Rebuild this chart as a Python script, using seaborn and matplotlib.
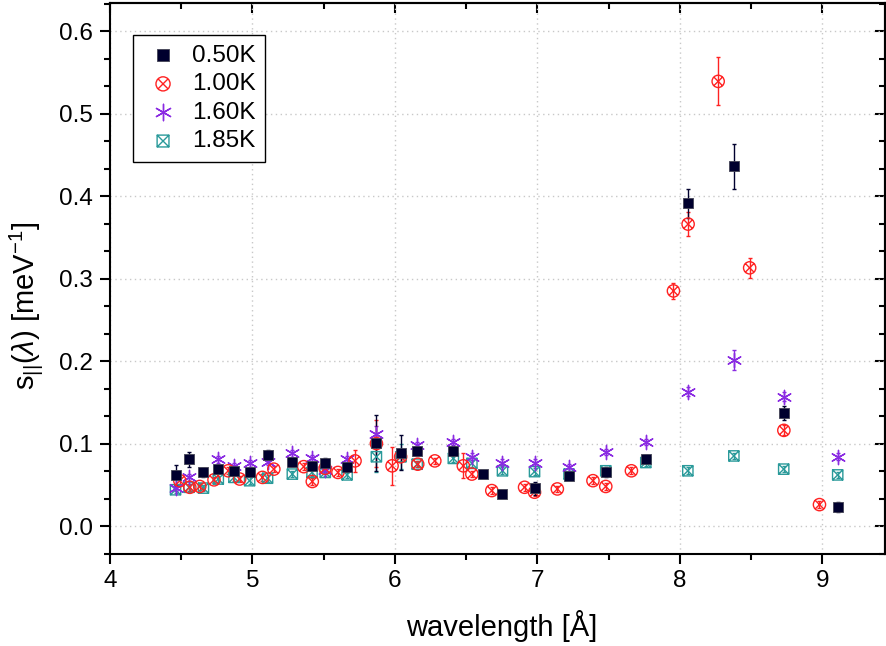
import numpy as np
import pandas as pd
import matplotlib
matplotlib.use("Agg")
import matplotlib.pyplot as plt
from matplotlib.path import Path
from matplotlib.ticker import MultipleLocator, FormatStrFormatter
import seaborn as sns

# ---------------- data ----------------
wl_050 = [4.46, 4.555, 4.656, 4.76, 4.87, 4.98, 5.106, 5.28, 5.418, 5.511, 5.664, 5.87,
          6.043, 6.156, 6.41, 6.617, 6.755, 6.98, 7.222, 7.48, 7.761, 8.056, 8.379, 8.729, 9.108]
s_050 = [0.062, 0.081, 0.065, 0.069, 0.067, 0.066, 0.086, 0.078, 0.073, 0.077, 0.071, 0.101,
         0.089, 0.091, 0.091, 0.063, 0.039, 0.046, 0.061, 0.065, 0.081, 0.391, 0.436, 0.137, 0.023]
e_050 = [0.012, 0.009, 0.005, 0.005, 0.004, 0.004, 0.006, 0.005, 0.005, 0.006, 0.005, 0.034,
         0.021, 0.005, 0.006, 0.004, 0.003, 0.008, 0.004, 0.006, 0.005, 0.018, 0.027, 0.008, 0.006]

wl_100 = [4.49, 4.56, 4.63, 4.73, 4.83, 4.91, 5.07, 5.15, 5.36, 5.42, 5.51, 5.60, 5.72, 5.87,
          5.98, 6.04, 6.16, 6.28, 6.48, 6.54, 6.68, 6.91, 6.98, 7.14, 7.39, 7.48, 7.66,
          7.955, 8.058, 8.269, 8.49, 8.73, 8.98]
s_100 = [0.055, 0.047, 0.048, 0.056, 0.067, 0.057, 0.059, 0.069, 0.072, 0.054, 0.070, 0.065, 0.079, 0.100,
         0.073, 0.084, 0.075, 0.079, 0.073, 0.063, 0.043, 0.047, 0.041, 0.045, 0.055, 0.048, 0.067,
         0.285, 0.366, 0.539, 0.313, 0.116, 0.026]
e_100 = [0.004, 0.004, 0.004, 0.004, 0.004, 0.004, 0.004, 0.004, 0.004, 0.004, 0.004, 0.004, 0.013, 0.028,
         0.023, 0.005, 0.004, 0.004, 0.015, 0.004, 0.004, 0.004, 0.004, 0.004, 0.004, 0.004, 0.004,
         0.010, 0.015, 0.029, 0.012, 0.006, 0.004]

wl_160 = [4.46, 4.555, 4.76, 4.87, 4.98, 5.106, 5.28, 5.418, 5.511, 5.664, 5.87, 6.156,
          6.41, 6.54, 6.755, 6.98, 7.222, 7.48, 7.761, 8.056, 8.379, 8.729, 9.108]
s_160 = [0.046, 0.059, 0.081, 0.073, 0.076, 0.078, 0.088, 0.082, 0.068, 0.081, 0.111, 0.098,
         0.102, 0.084, 0.077, 0.077, 0.071, 0.090, 0.102, 0.163, 0.201, 0.157, 0.084]
e_160 = [0.004, 0.004, 0.004, 0.004, 0.004, 0.004, 0.004, 0.004, 0.004, 0.004, 0.010, 0.004,
         0.004, 0.004, 0.004, 0.004, 0.004, 0.004, 0.004, 0.005, 0.012, 0.005, 0.004]

wl_185 = [4.46, 4.555, 4.656, 4.76, 4.87, 4.98, 5.106, 5.28, 5.418, 5.511, 5.664, 5.87,
          6.043, 6.156, 6.41, 6.54, 6.755, 6.98, 7.222, 7.48, 7.761, 8.056, 8.379, 8.729, 9.108]
s_185 = [0.044, 0.047, 0.046, 0.057, 0.059, 0.055, 0.058, 0.063, 0.065, 0.065, 0.062, 0.084,
         0.084, 0.075, 0.082, 0.076, 0.067, 0.066, 0.063, 0.067, 0.077, 0.067, 0.085, 0.069, 0.062]
e_185 = [0.004, 0.004, 0.004, 0.004, 0.004, 0.004, 0.004, 0.004, 0.004, 0.004, 0.004, 0.018,
         0.015, 0.004, 0.004, 0.004, 0.004, 0.004, 0.004, 0.004, 0.004, 0.004, 0.004, 0.004, 0.004]

labels = ["0.50K", "1.00K", "1.60K", "1.85K"]
colors = ["#00002e", "#ff2222", "#8a2be2", "#2a9a9a"]

# ---------------- style ----------------
sns.set_style("ticks")
plt.rcParams["font.family"] = ["Liberation Sans", "DejaVu Sans"]
plt.rcParams["mathtext.fontset"] = "custom"
plt.rcParams["mathtext.rm"] = "Liberation Sans"
plt.rcParams["mathtext.it"] = "Liberation Sans:italic"
plt.rcParams["mathtext.bf"] = "Liberation Sans:bold"
for k in ["text.color", "axes.labelcolor", "xtick.color", "ytick.color", "axes.edgecolor"]:
    plt.rcParams[k] = "black"

# custom markers
circ_x = Path.make_compound_path(
    Path.unit_circle(),
    Path([[-0.7071, -0.7071], [0.7071, 0.7071]], [Path.MOVETO, Path.LINETO]),
    Path([[-0.7071, 0.7071], [0.7071, -0.7071]], [Path.MOVETO, Path.LINETO]),
)
sq_x = Path.make_compound_path(
    Path([[-1, -1], [1, -1], [1, 1], [-1, 1], [-1, -1]],
         [Path.MOVETO, Path.LINETO, Path.LINETO, Path.LINETO, Path.CLOSEPOLY]),
    Path([[-1, -1], [1, 1]], [Path.MOVETO, Path.LINETO]),
    Path([[-1, 1], [1, -1]], [Path.MOVETO, Path.LINETO]),
)

fig = plt.figure(figsize=(8.86, 6.46), dpi=100)
ax = fig.add_axes([110 / 886, (646 - 553.7) / 646, (885 - 110) / 886, (553.7 - 3) / 646])

series = [
    (wl_185, s_185, e_185, labels[3], colors[3]),
    (wl_160, s_160, e_160, labels[2], colors[2]),
    (wl_100, s_100, e_100, labels[1], colors[1]),
    (wl_050, s_050, e_050, labels[0], colors[0]),
]

for wl, s, e, lab, col in series:
    df = pd.DataFrame({"wl": wl, "s": s})
    ax.errorbar(wl, s, yerr=e, fmt="none", ecolor=col, elinewidth=1.0,
                capsize=1.5, capthick=1.0, zorder=2)
    if lab == "0.50K":
        sns.scatterplot(data=df, x="wl", y="s", ax=ax, marker="s", s=60,
                        color=col, edgecolor="#444455", linewidth=0.6, label=lab, zorder=5)
    elif lab == "1.00K":
        sns.scatterplot(data=df, x="wl", y="s", ax=ax, marker=circ_x, s=78,
                        color=col, facecolor="none", edgecolor=col, linewidth=1.0, label=lab, zorder=4)
    elif lab == "1.60K":
        sns.scatterplot(data=df, x="wl", y="s", ax=ax, marker=(6, 2, 0), s=105,
                        color=col, edgecolor=col, linewidth=1.0, label=lab, zorder=3)
    else:
        sns.scatterplot(data=df, x="wl", y="s", ax=ax, marker=sq_x, s=55,
                        color=col, facecolor="none", edgecolor=col, linewidth=1.0, label=lab, zorder=3)

ax.set_xlim(4, 9.44)
ax.set_ylim(-0.0335, 0.634)
ax.xaxis.set_major_locator(MultipleLocator(1))
ax.xaxis.set_minor_locator(MultipleLocator(0.5))
ax.yaxis.set_major_locator(MultipleLocator(0.1))
ax.yaxis.set_minor_locator(MultipleLocator(0.1 / 3))
ax.yaxis.set_major_formatter(FormatStrFormatter("%.1f"))
ax.xaxis.set_major_formatter(FormatStrFormatter("%d"))

ax.grid(True, which="major", color="#c8c8c8", linestyle=(0, (1, 2.5)), linewidth=1.0)
ax.set_axisbelow(True)

for sp in ax.spines.values():
    sp.set_linewidth(1.5)
    sp.set_color("black")
    sp.set_visible(True)

ax.tick_params(which="major", direction="out", length=7, width=1.5, labelsize=17.5, pad=5,
               colors="black")
ax.tick_params(which="minor", direction="out", length=4, width=1.5, colors="black")

# inward ticks on top and right
sec_x = ax.secondary_xaxis("top")
sec_x.xaxis.set_major_locator(MultipleLocator(1))
sec_x.xaxis.set_minor_locator(MultipleLocator(0.5))
sec_x.tick_params(which="major", direction="in", length=7, width=1.5, labeltop=False)
sec_x.tick_params(which="minor", direction="in", length=4, width=1.5)
sec_x.spines["top"].set_linewidth(1.5)
sec_y = ax.secondary_yaxis("right")
sec_y.yaxis.set_major_locator(MultipleLocator(0.1))
sec_y.yaxis.set_minor_locator(MultipleLocator(0.1 / 3))
sec_y.tick_params(which="major", direction="in", length=7, width=1.5, labelright=False)
sec_y.tick_params(which="minor", direction="in", length=4, width=1.5)
sec_y.spines["right"].set_linewidth(1.5)

ax.set_xlabel("wavelength [Å]", fontsize=21)
ax.xaxis.set_label_coords(0.506, -0.102)
ax.set_ylabel(r"s$_{\mathrm{||}}$($\lambda$) [meV$^{\mathrm{-1}}$]", fontsize=21)
ax.yaxis.set_label_coords(-0.084, 0.45)

h, l = ax.get_legend_handles_labels()
order = [l.index(x) for x in labels]
leg = ax.legend([h[i] for i in order], [l[i] for i in order], loc="upper left",
                bbox_to_anchor=(0.0297, 0.942), borderaxespad=0, fontsize=17.5,
                frameon=True, fancybox=False, framealpha=1, edgecolor="black",
                handlelength=1.67, handletextpad=0.36, labelspacing=0.27, borderpad=0.4,
                markerscale=1.15)
leg.get_frame().set_linewidth(1.0)

fig.savefig("out.png", dpi=100)
